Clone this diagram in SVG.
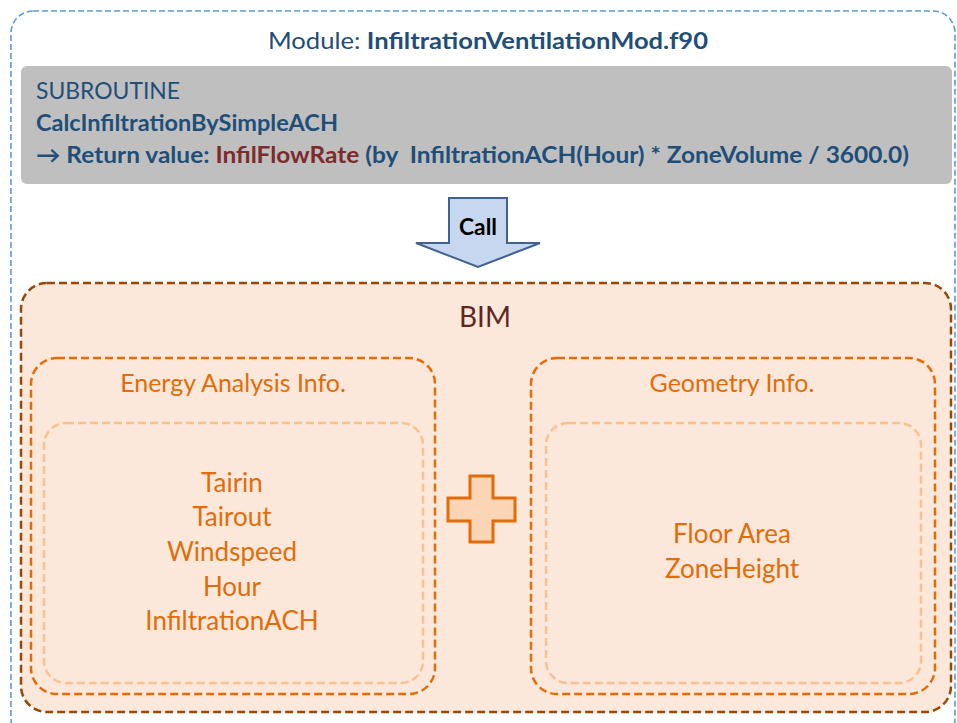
<svg xmlns="http://www.w3.org/2000/svg" width="957" height="723" viewBox="0 0 957 723">
<style>
text{font-family:Lato,"Liberation Sans",sans-serif;white-space:pre}
.blue{fill:#1f4e79;font-size:23px}
.b{font-weight:bold}
.org{fill:#e36c09;font-size:26px;text-anchor:middle}
.lbl{fill:#e36c09;font-size:25px;text-anchor:middle}
.box2{fill:none;stroke:#e36c09;stroke-width:2.5;stroke-dasharray:8 4}
.box3{fill:none;stroke:#fac090;stroke-width:2.5;stroke-dasharray:8 4}
</style>
<rect width="957" height="723" fill="#fff"/>
<g id="module">
<rect x="11" y="11" width="944" height="730" rx="22" fill="none" stroke="#5b9bd5" stroke-width="1.6" stroke-dasharray="6 3"/>
<text x="488" y="49" text-anchor="middle" class="blue" textLength="440" lengthAdjust="spacingAndGlyphs"><tspan>Module: </tspan><tspan class="b">InfiltrationVentilationMod.f90</tspan></text>
</g>
<g id="subroutine">
<rect x="21" y="66" width="931" height="118" rx="6" fill="#bfbfbf"/>
<text x="36" y="99" class="blue" textLength="144" lengthAdjust="spacingAndGlyphs">SUBROUTINE</text>
<text x="36" y="131" class="blue b" textLength="302" lengthAdjust="spacingAndGlyphs">CalcInfiltrationBySimpleACH</text>
<text x="36" y="163" class="blue b" textLength="873" lengthAdjust="spacingAndGlyphs">→ Return value: <tspan fill="#7b2c2c">InfilFlowRate</tspan> (by  InfiltrationACH(Hour) * ZoneVolume / 3600.0)</text>
</g>
<g id="connectors">
<g id="call">
<polygon points="449,198 507,198 507,243 540,243 478,267 416,243 449,243" fill="#c6d7ef" stroke="#41628f" stroke-width="2"/>
<text x="478" y="235" text-anchor="middle" font-size="22" font-weight="bold" fill="#000" textLength="38" lengthAdjust="spacingAndGlyphs">Call</text>
</g>
</g>
<g id="bim">
<rect x="21" y="283" width="930" height="429" rx="26" fill="#fce8da" stroke="#974806" stroke-width="2.5" stroke-dasharray="8 4"/>
<text x="485" y="327" text-anchor="middle" font-size="28" fill="#632523">BIM</text>
</g>
<g id="energy">
<rect x="31" y="358" width="404" height="336" rx="26" class="box2"/>
<text x="233" y="392" class="lbl">Energy Analysis Info.</text>
<rect x="44" y="423" width="379" height="260" rx="22" class="box3"/>
<text x="232" y="492" class="org">Tairin</text>
<text x="232" y="526" class="org">Tairout</text>
<text x="232" y="561" class="org">Windspeed</text>
<text x="232" y="596" class="org">Hour</text>
<text x="232" y="630" class="org">InfiltrationACH</text>
</g>
<g id="geometry">
<rect x="531" y="358" width="404" height="336" rx="26" class="box2"/>
<text x="732" y="392" class="lbl">Geometry Info.</text>
<rect x="546" y="423" width="375" height="260" rx="22" class="box3"/>
<text x="732" y="543" class="org">Floor Area</text>
<text x="732" y="578" class="org">ZoneHeight</text>
</g>
<g id="plus">
<polygon points="470,476 493,476 493,498 515,498 515,521 493,521 493,542 470,542 470,521 448,521 448,498 470,498" fill="#fbd5b5" stroke="#e36c09" stroke-width="3"/>
</g>
</svg>
